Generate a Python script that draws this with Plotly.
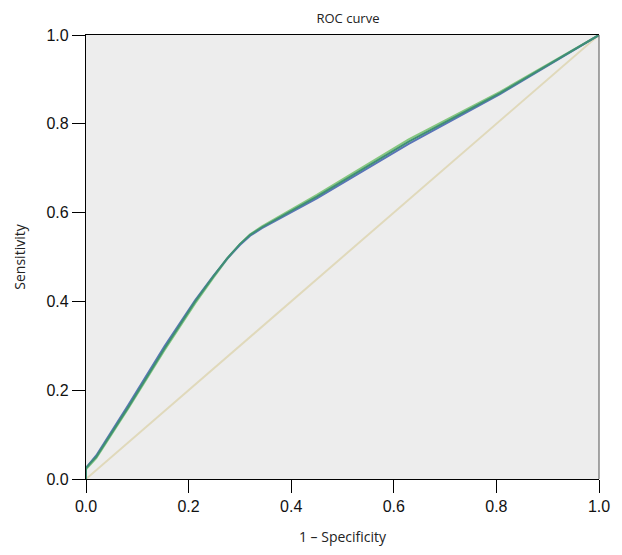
import plotly.graph_objects as go

# ROC curve data (1 - Specificity, Sensitivity)
fpr_blue = [0.0, 0.0, 0.02, 0.083, 0.153, 0.213, 0.248, 0.275, 0.30, 0.32, 0.343, 0.45, 0.629, 0.807, 1.0]
tpr_blue = [0.0, 0.025, 0.053, 0.168, 0.299, 0.403, 0.457, 0.496, 0.527, 0.548, 0.565, 0.632, 0.755, 0.867, 1.0]

fpr_teal = [0.0, 0.0, 0.02, 0.083, 0.153, 0.213, 0.248, 0.275, 0.30, 0.32, 0.343, 0.45, 0.629, 0.807, 1.0]
tpr_teal = [0.0, 0.025, 0.05, 0.163, 0.294, 0.40, 0.456, 0.497, 0.529, 0.550, 0.567, 0.636, 0.760, 0.869, 1.0]

fpr_green = [0.0, 0.0, 0.02, 0.083, 0.153, 0.213, 0.248, 0.275, 0.30, 0.32, 0.343, 0.45, 0.629, 0.807, 1.0]
tpr_green = [0.0, 0.022, 0.047, 0.160, 0.290, 0.396, 0.453, 0.495, 0.529, 0.551, 0.569, 0.640, 0.765, 0.872, 1.0]

ref_x = [0.0, 1.0]
ref_y = [0.0, 1.0]

x_ticks = [0.0, 0.2, 0.4, 0.6, 0.8, 1.0]
y_ticks = [0.0, 0.2, 0.4, 0.6, 0.8, 1.0]
tick_text = ["0.0", "0.2", "0.4", "0.6", "0.8", "1.0"]

fig = go.Figure()
fig.add_trace(go.Scatter(x=ref_x, y=ref_y, mode="lines",
                         line=dict(color="#e0d9bb", width=2), showlegend=False))
fig.add_trace(go.Scatter(x=fpr_green, y=tpr_green, mode="lines",
                         line=dict(color="#86c77f", width=2), showlegend=False))
fig.add_trace(go.Scatter(x=fpr_blue, y=tpr_blue, mode="lines",
                         line=dict(color="#5a74b8", width=2), showlegend=False))
fig.add_trace(go.Scatter(x=fpr_teal, y=tpr_teal, mode="lines",
                         line=dict(color="#3f8f74", width=2), showlegend=False))

fig.update_layout(
    width=614, height=547,
    margin=dict(l=75, r=15, t=27, b=76),
    paper_bgcolor="white",
    plot_bgcolor="#ededed",
    title=dict(text="ROC curve", x=0.5537, xanchor="center", y=0.98, yanchor="middle",
               font=dict(family="Open Sans", size=13, color="#222")),
    xaxis=dict(range=[0, 1], tickvals=x_ticks, ticktext=tick_text,
               showgrid=False, zeroline=False, showline=True, linecolor="black",
               linewidth=1.3, mirror=True, ticks="outside", ticklen=13, tickcolor="black",
               tickfont=dict(family="Liberation Sans, Arial", size=16, color="#111"),
               title=dict(text="1 – Specificity", standoff=17,
                          font=dict(family="Open Sans", size=14, color="#222"))),
    yaxis=dict(range=[0, 1], tickvals=y_ticks, ticktext=tick_text,
               showgrid=False, zeroline=False, showline=True, linecolor="black",
               linewidth=1.3, ticks="outside", ticklen=13, tickcolor="black",
               tickfont=dict(family="Liberation Sans, Arial", size=16, color="#111"),
               title=dict(text="Sensitivity", standoff=17,
                          font=dict(family="Open Sans", size=14, color="#222"))),
    shapes=[dict(type="line", xref="x domain", yref="y domain", x0=1, x1=1, y0=0, y1=1,
                 line=dict(color="#777777", width=1.3))],
)

fig.write_html("out.html")
